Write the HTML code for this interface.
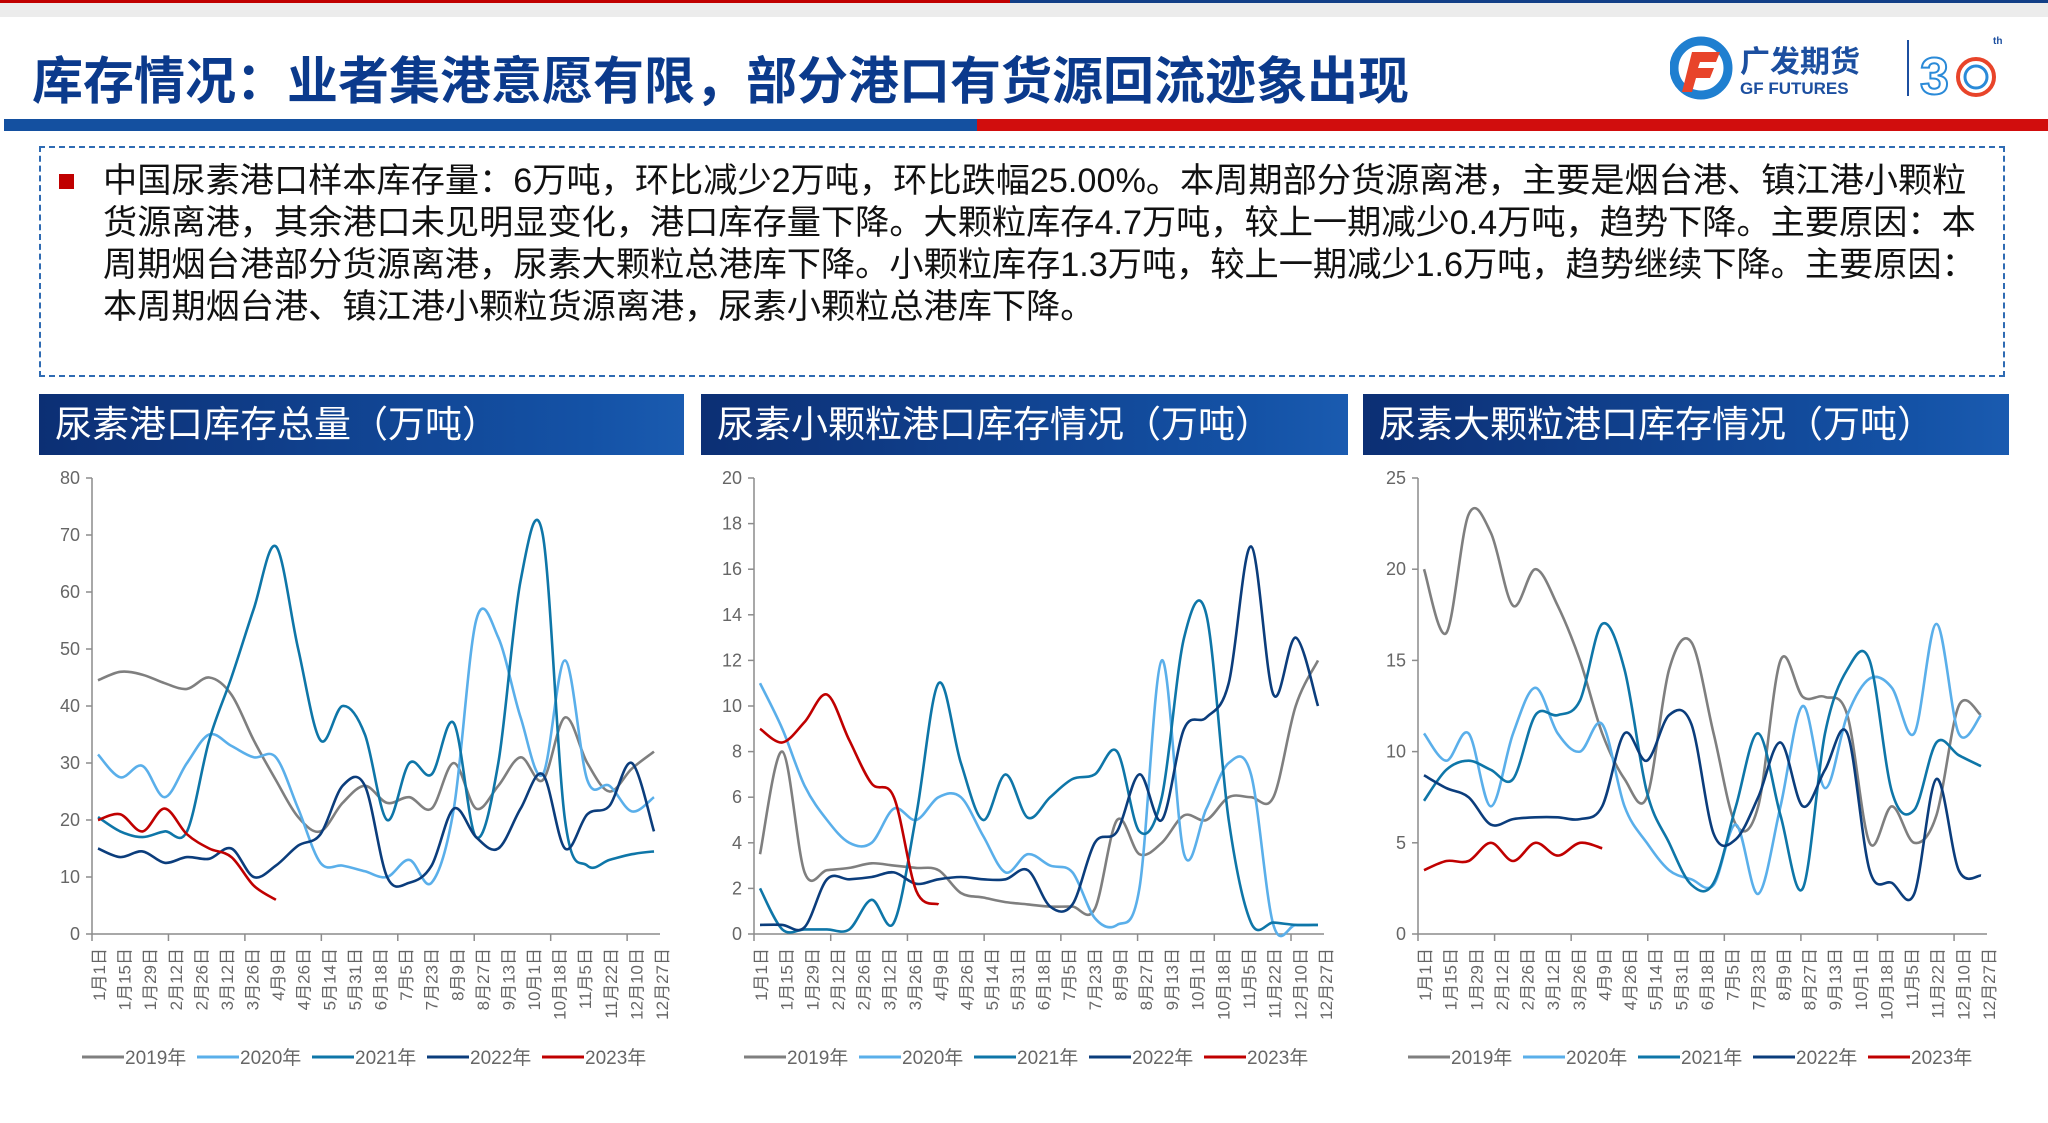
<!DOCTYPE html>
<html><head><meta charset="utf-8">
<style>
body{margin:0;width:2048px;height:1123px;background:#fff;position:relative;overflow:hidden;font-family:"Liberation Sans","Noto Sans CJK SC",sans-serif;}
.abs{position:absolute;}
#title{left:32px;top:40px;font-size:51px;font-weight:bold;color:#0b3a8c;letter-spacing:0px;white-space:nowrap;}
#desc{left:39px;top:146px;width:1966px;height:231px;border:2px dashed #2f6bb3;box-sizing:border-box;}
#desc-text{position:absolute;left:62px;top:12px;width:1890px;font-size:34.2px;line-height:42px;color:#111;white-space:nowrap;}
.hdr{top:394px;height:61px;background:linear-gradient(90deg,#0c2f74,#1452a6 85%,#1a5bb0);color:#fff;font-size:37px;line-height:61px;padding-left:16px;box-sizing:border-box;white-space:nowrap;}
svg text{font-family:"Liberation Sans","Noto Sans CJK SC",sans-serif;}
</style></head>
<body>
<div class="abs" style="left:0;top:0;width:1010px;height:3px;background:#c00000"></div>
<div class="abs" style="left:1010px;top:0;width:1038px;height:3px;background:#123f87"></div>
<div class="abs" style="left:0;top:3px;width:2048px;height:14px;background:#ececec"></div>
<div id="title" class="abs">库存情况：业者集港意愿有限，部分港口有货源回流迹象出现</div>

<div class="abs" style="left:1670px;top:34px;width:340px;height:66px;">
  <svg width="340" height="66">
    <circle cx="31" cy="34" r="27" fill="none" stroke="#1f7fd0" stroke-width="9"/>
    <path d="M22 18 L50 18 L46 28 L30 28 L28 34 L44 34 L40 44 L26 44 L22 58 L12 58 Z" fill="#e8442a"/>
    <text x="70" y="38" font-size="30" font-weight="bold" fill="#1c4fa0">广发期货</text>
    <text x="70" y="60" font-size="17" font-weight="bold" fill="#1c4fa0">GF FUTURES</text>
    <line x1="238" y1="6" x2="238" y2="62" stroke="#1c4fa0" stroke-width="2"/>
    <text x="250" y="60" font-size="52" font-weight="bold" fill="none" stroke="#2a8ad8" stroke-width="2">3</text>
    <circle cx="306" cy="43" r="18" fill="none" stroke="#e8442a" stroke-width="4"/>
    <circle cx="306" cy="43" r="11" fill="none" stroke="#2a8ad8" stroke-width="3"/>
    <text x="323" y="10" font-size="10" font-weight="bold" fill="#1c4fa0">th</text>
  </svg>
</div>

<div class="abs" style="left:4px;top:119px;width:973px;height:12px;background:#1450a0"></div>
<div class="abs" style="left:977px;top:119px;width:1071px;height:12px;background:#d10d0d"></div>

<div id="desc" class="abs">
  <div class="abs" style="left:18px;top:26px;width:15px;height:15px;background:#c00000"></div>
  <div id="desc-text">中国尿素港口样本库存量：6万吨，环比减少2万吨，环比跌幅25.00%。本周期部分货源离港，主要是烟台港、镇江港小颗粒<br>货源离港，其余港口未见明显变化，港口库存量下降。大颗粒库存4.7万吨，较上一期减少0.4万吨，趋势下降。主要原因：本<br>周期烟台港部分货源离港，尿素大颗粒总港库下降。小颗粒库存1.3万吨，较上一期减少1.6万吨，趋势继续下降。主要原因：<br>本周期烟台港、镇江港小颗粒货源离港，尿素小颗粒总港库下降。</div>
</div>

<div class="abs hdr" style="left:39px;width:645px;">尿素港口库存总量（万吨）</div>
<div class="abs hdr" style="left:701px;width:647px;">尿素小颗粒港口库存情况（万吨）</div>
<div class="abs hdr" style="left:1363px;width:646px;">尿素大颗粒港口库存情况（万吨）</div>

<svg id="chart1" class="abs" style="left:0;top:460px" width="700" height="640"></svg>
<svg id="chart2" class="abs" style="left:0;top:460px" width="1400" height="640"></svg>
<svg id="chart3" class="abs" style="left:0;top:460px" width="2048" height="640"></svg>

<script>
const categories = ["1月1日","1月15日","1月29日","2月12日","2月26日","3月12日","3月26日","4月9日","4月26日","5月14日","5月31日","6月18日","7月5日","7月23日","8月9日","8月27日","9月13日","10月1日","10月18日","11月5日","11月22日","12月10日","12月27日"];
const seriesNames = ["2019年","2020年","2021年","2022年","2023年"];
const seriesColors = ["#7f7f7f","#5aafea","#0e76a8","#0b3d7c","#c00000"];

// chart 1: total inventory (biweekly points)
const total2019 = [44.5,46,45.5,44,43,45,42,34,27,20.5,18,23,26,23,24,22,30,22,26,31,27,38,30,25,29,32];
const total2020 = [31.5,27.5,29.5,24,30,35,33,31,31,22,12.5,12,11,10,13,9,22,55,52,38,28,48,27,26,21.5,24];
const total2021 = [20.5,18,17,18,18,34,45,57,68,50,34,40,35,20,30,28,37,17,30,62,70,20,12,13,14,14.5];
const total2022 = [15,13.5,14.5,12.5,13.5,13.2,15,10,12,15.5,17.5,26,26,10,9,12,22,17,15,22,28,15,21,22.5,30,18];
const total2023 = [20,21,18,22,17.5,15,13.5,8.5,6];
const totalTicks = [0,10,20,30,40,50,60,70,80];

// chart 2: small granule
const small2019 = [3.5,8,2.7,2.8,2.9,3.1,3.0,2.9,2.8,1.8,1.6,1.4,1.3,1.2,1.2,1.1,5,3.5,4,5.2,5,6,6,6,10,12];
const small2020 = [11,9,6.5,5,4,4,5.5,5,6,6,4.3,2.7,3.5,3,2.7,0.7,0.4,2,12,3.5,5.5,7.5,7,0.4,0.4,0.4];
const small2021 = [2,0.2,0.2,0.2,0.2,1.5,0.5,5.2,11,7.5,5,7,5.1,6,6.8,7,8,4.5,6,13,14,5,0.5,0.5,0.4,0.4];
const small2022 = [0.4,0.4,0.3,2.4,2.4,2.5,2.7,2.2,2.4,2.5,2.4,2.4,2.8,1.2,1.3,4,4.5,7,5,9,9.5,11,17,10.5,13,10];
const small2023 = [9,8.4,9.3,10.5,8.5,6.6,6,1.9,1.3];
const smallTicks = [0,2,4,6,8,10,12,14,16,18,20];

// chart 3: large granule
const large2019 = [20,16.5,23,22,18,20,18,15,11,8.5,7.5,14.5,16,11,6,7,15,13,13,12,5,7,5,6.5,12.5,12];
const large2020 = [11,9.5,11,7,11,13.5,11,10,11.5,7,5,3.5,3,2.7,6,2.2,7,12.5,8,12,14,13.5,11,17,11,12];
const large2021 = [7.3,9,9.5,9,8.5,12,12,12.8,17,14.5,7.8,5,2.7,2.8,7,11,6.5,2.5,11,14.5,15,7.8,6.8,10.5,9.8,9.2];
const large2022 = [8.7,8,7.5,6,6.3,6.4,6.4,6.3,7,11,9.5,12,11.5,5.5,5.2,7.5,10.5,7,9,11,3.5,2.8,2.2,8.5,3.5,3.2];
const large2023 = [3.5,4,4,5,4,5,4.3,5,4.7];
const largeTicks = [0,5,10,15,20,25];

const NS = "http://www.w3.org/2000/svg";
function mk(tag, attrs, parent){const e=document.createElementNS(NS,tag);for(const k in attrs)e.setAttribute(k,attrs[k]);parent.appendChild(e);return e;}

function smoothPath(pts){
  let d = "M"+pts[0][0].toFixed(1)+","+pts[0][1].toFixed(1);
  for(let i=0;i<pts.length-1;i++){
    const p0=pts[Math.max(0,i-1)],p1=pts[i],p2=pts[i+1],p3=pts[Math.min(pts.length-1,i+2)];
    const c1x=p1[0]+(p2[0]-p0[0])/6,c1y=p1[1]+(p2[1]-p0[1])/6;
    const c2x=p2[0]-(p3[0]-p1[0])/6,c2y=p2[1]-(p3[1]-p1[1])/6;
    d+=" C"+c1x.toFixed(1)+","+c1y.toFixed(1)+" "+c2x.toFixed(1)+","+c2y.toFixed(1)+" "+p2[0].toFixed(1)+","+p2[1].toFixed(1);
  }
  return d;
}

function drawChart(svg, x0, x1, series, ticks){
  const top=478-460, bottom=934-460;
  const ymax=ticks[ticks.length-1];
  const yS=v=>bottom-(v/ymax)*(bottom-top);
  const N=26;
  const xS=i=>x0+6+i*(x1-x0-12)/(N-1);
  const ya=mk("line",{x1:x0,y1:top,x2:x0,y2:bottom,stroke:"#8c8c8c","stroke-width":1.5},svg);
  
  
  ticks.forEach(t=>{
    const tl=mk("line",{x1:x0-6,y1:yS(t),x2:x0,y2:yS(t),stroke:"#8c8c8c","stroke-width":1.5},svg);
    
    
    const tx=mk("text",{x:x0-12,y:yS(t)+6,"text-anchor":"end","font-size":18,fill:"#666"},svg);
    tx.textContent=t;
    
    
  });
  const xa=mk("line",{x1:x0,y1:bottom,x2:x1,y2:bottom,stroke:"#8c8c8c","stroke-width":1.5},svg);
  
  
  for(let k=0;k<=7;k++){
    const xx=x0+k*(x1-x0)/7.43;
    const tk=mk("line",{x1:xx,y1:bottom,x2:xx,y2:bottom+7,stroke:"#8c8c8c","stroke-width":1.5},svg);
    
    
  }
  const lx0=x0+7,lx1=x1+2;
  categories.forEach((c,i)=>{
    const lx=lx0+i*(lx1-lx0)/(categories.length-1);
    const t=mk("text",{x:0,y:0,"text-anchor":"end","font-size":17,fill:"#666",transform:"translate("+(lx+6)+","+(bottom+14)+") rotate(-90)"},svg);
    t.textContent=c;
    
    
  });
  series.forEach((s,si)=>{
    const pts=s.map((v,i)=>[xS(i),yS(v)]);
    const p=mk("path",{d:smoothPath(pts),fill:"none",stroke:seriesColors[si],"stroke-width":2.6,"stroke-linejoin":"round"},svg);
    
    
  });
  const legX=x0-10, legY=1057-460;
  seriesNames.forEach((n,i)=>{
    const bx=legX+i*115;
    const l=mk("line",{x1:bx,y1:legY,x2:bx+42,y2:legY,stroke:seriesColors[i],"stroke-width":3},svg);
    
    
    const t=mk("text",{x:bx+43,y:legY+7,"font-size":19,fill:"#666"},svg);
    t.textContent=n;
    
    
  });
}
drawChart(document.getElementById("chart1"),92,660,[total2019,total2020,total2021,total2022,total2023],totalTicks);
drawChart(document.getElementById("chart2"),754,1324,[small2019,small2020,small2021,small2022,small2023],smallTicks);
drawChart(document.getElementById("chart3"),1418,1987,[large2019,large2020,large2021,large2022,large2023],largeTicks);
</script>
</body></html>
